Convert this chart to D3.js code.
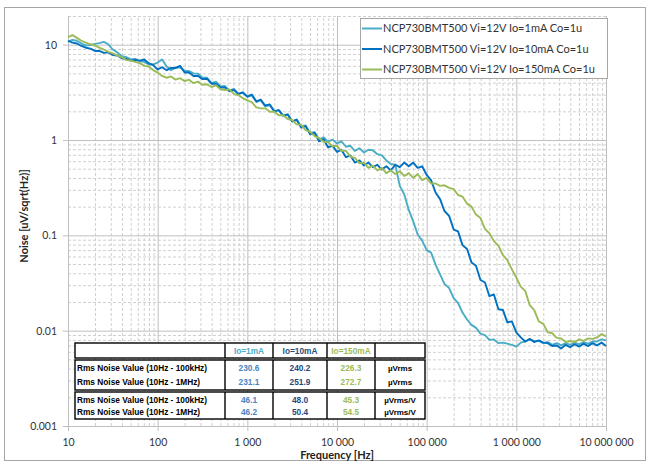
<!DOCTYPE html>
<html>
<head>
<meta charset="utf-8">
<script src="https://cdn.jsdelivr.net/npm/d3@7"></script>
<style>
  body { margin: 0; background: #fff; }
  svg { display: block; }
</style>
</head>
<body>
<svg width="649" height="464"></svg>
<script>
// frequency grid (Hz), 20 points per decade
var freqs = [10, 11.2, 12.6, 14.1, 15.8, 17.8, 20, 22.4, 25.1, 28.2, 31.6, 35.5, 39.8, 44.7, 50.1, 56.2, 63.1, 70.8, 79.4, 89.1,
  100, 112, 126, 141, 158, 178, 200, 224, 251, 282, 316, 355, 398, 447, 501, 562, 631, 708, 794, 891,
  1000, 1120, 1260, 1410, 1580, 1780, 2000, 2240, 2510, 2820, 3160, 3550, 3980, 4470, 5010, 5620, 6310, 7080, 7940, 8910,
  10000, 11200, 12600, 14100, 15800, 17800, 20000, 22400, 25100, 28200, 31600, 35500, 39800, 44700, 50100, 56200, 63100, 70800, 79400, 89100,
  100000, 112000, 126000, 141000, 158000, 178000, 200000, 224000, 251000, 282000, 316000, 355000, 398000, 447000, 501000, 562000, 631000, 708000, 794000, 891000,
  1000000, 1120000, 1260000, 1410000, 1580000, 1780000, 2000000, 2240000, 2510000, 2820000, 3160000, 3550000, 3980000, 4470000, 5010000, 5620000, 6310000, 7080000, 7940000, 8910000,
  10000000];

// noise density, uV/sqrt(Hz)
var noise1mA = [10.75, 11.2, 11.0, 10.3, 9.8, 9.9, 10.2, 10.4, 10.7, 10.1,
  8.9, 8.3, 7.6, 7.4, 7.0, 7.1, 6.7, 6.6, 6.2, 6.2,
  6.5, 7.0, 5.9, 5.4, 5.7, 5.8, 5.3, 5.3, 5.0, 4.95,
  4.5, 4.5, 3.95, 4.1, 3.65, 3.7, 3.3, 3.45, 3.05, 3.15,
  2.85, 2.95, 2.5, 2.62, 2.25, 2.32, 2.0, 2.06, 1.8, 1.84,
  1.58, 1.62, 1.39, 1.42, 1.19, 1.21, 1.01, 1.07, 0.96, 1.01,
  0.92, 0.97, 0.85, 0.87, 0.77, 0.82, 0.74, 0.79, 0.78, 0.71,
  0.69, 0.61, 0.56, 0.55, 0.33, 0.27, 0.185, 0.14, 0.102, 0.088,
  0.07, 0.066, 0.049, 0.039, 0.031, 0.028, 0.022, 0.0195, 0.0155, 0.0131,
  0.0115, 0.0107, 0.0093, 0.009, 0.008, 0.0081, 0.0074, 0.0075, 0.0073, 0.0071,
  0.0068, 0.0075, 0.0077, 0.0081, 0.0078, 0.0078, 0.0074, 0.0076, 0.0071, 0.0074,
  0.007, 0.0074, 0.0071, 0.0075, 0.0072, 0.0076, 0.0073, 0.0077, 0.0077, 0.0081, 0.0079];

var noise10mA = [11.0, 10.5, 10.3, 9.7, 9.3, 9.1, 8.6, 8.6, 8.2, 8.3,
  7.8, 7.7, 7.2, 7.1, 6.8, 6.9, 6.8, 7.0, 6.4, 6.1,
  5.5, 5.8, 5.4, 5.7, 5.7, 6.0, 5.1, 5.1, 4.7, 4.7,
  4.35, 4.4, 3.9, 3.9, 3.55, 3.55, 3.25, 3.35, 3.05, 3.15,
  2.85, 3.0, 2.55, 2.65, 2.3, 2.36, 2.0, 2.06, 1.8, 1.86,
  1.56, 1.64, 1.35, 1.4, 1.15, 1.19, 0.97, 1.02, 0.84, 0.87,
  0.75, 0.79, 0.66, 0.69, 0.58, 0.61, 0.54, 0.58, 0.52, 0.55,
  0.49, 0.53, 0.48, 0.55, 0.52, 0.58, 0.53, 0.58, 0.51, 0.53,
  0.43, 0.38, 0.28, 0.24, 0.18, 0.16, 0.115, 0.11, 0.079, 0.072,
  0.052, 0.048, 0.034, 0.032, 0.023, 0.024, 0.0168, 0.0165, 0.0122, 0.0125,
  0.0096, 0.0085, 0.0077, 0.0082, 0.0076, 0.0079, 0.0075, 0.0074, 0.0069, 0.007,
  0.0065, 0.0071, 0.0067, 0.0072, 0.0068, 0.0073, 0.0069, 0.0074, 0.007, 0.0075, 0.0069];

var noise150mA = [12.0, 12.6, 11.8, 11.0, 10.5, 10.1, 9.8, 9.3, 8.9, 8.4,
  8.1, 7.7, 7.4, 6.9, 6.8, 6.6, 6.4, 6.0, 5.9, 5.4,
  5.1, 4.7, 4.5, 4.65, 4.3, 4.45, 4.15, 4.3, 3.95, 4.1,
  3.8, 3.85, 3.6, 3.75, 3.4, 3.35, 3.4, 3.05, 2.95, 2.75,
  2.6, 2.5, 2.2, 2.15, 2.15, 1.98, 1.98, 1.82, 1.82, 1.66,
  1.62, 1.46, 1.44, 1.27, 1.22, 1.1, 1.05, 0.96, 0.95, 0.86,
  0.87, 0.77, 0.77, 0.67, 0.65, 0.57, 0.58, 0.51, 0.54, 0.48,
  0.51, 0.45, 0.48, 0.44, 0.47, 0.42, 0.45, 0.4, 0.44, 0.38,
  0.4, 0.35, 0.35, 0.33, 0.335, 0.315, 0.305, 0.265, 0.255, 0.215,
  0.2, 0.165, 0.152, 0.117, 0.105, 0.087, 0.078, 0.062, 0.055, 0.044,
  0.036, 0.029, 0.026, 0.0185, 0.0165, 0.0125, 0.0118, 0.0096, 0.0094, 0.0084,
  0.0083, 0.0076, 0.0078, 0.0076, 0.0081, 0.0078, 0.0083, 0.0082, 0.0085, 0.0092, 0.0087];

var seriesNames = ['NCP730BMT500 Vi=12V Io=1mA Co=1u', 'NCP730BMT500 Vi=12V Io=10mA Co=1u', 'NCP730BMT500 Vi=12V Io=150mA Co=1u'];
var seriesColors = ['#4bacc6', '#0070c0', '#9bbb59'];

var xTicks = [10, 100, 1000, 10000, 100000, 1000000, 10000000];
var yTicks = [0.001, 0.01, 0.1, 1, 10];

// rms table
var tableCols = ['Io=1mA', 'Io=10mA', 'Io=150mA'];
var tableHeadColors = ['#4bacc6', '#1f4e79', '#9bbb59'];
var tableValColors = ['#4f81bd', '#1f497d', '#9bbb59'];
var rowLabels = ['Rms Noise Value (10Hz - 100kHz)', 'Rms Noise Value (10Hz - 1MHz)', 'Rms Noise Value (10Hz - 100kHz)', 'Rms Noise Value (10Hz - 1MHz)'];
var rmsValues = [[230.6, 240.2, 226.3], [231.1, 251.9, 272.7], [46.1, 48.0, 45.3], [46.2, 50.4, 54.5]];
var rowUnits = ['\u00b5Vrms', '\u00b5Vrms', '\u00b5Vrms/V', '\u00b5Vrms/V'];

var svg = d3.select('svg');
var plotL = 68, plotR = 606, plotT = 16, plotB = 426;

var x = d3.scaleLog().domain([10, 1e7]).range([plotL, plotR]);
var y = d3.scaleLog().domain([0.001, 20]).range([plotB, plotT]);

svg.append('rect').attr('x', 4.5).attr('y', 7.5).attr('width', 641).attr('height', 453)
  .attr('fill', '#fff').attr('stroke', '#a6a6a6');

// minor grid values
var xMinor = [], yMinor = [];
xTicks.slice(0, -1).forEach(function (d) { for (var m = 2; m <= 9; m++) xMinor.push(d * m); });
yTicks.forEach(function (d) { for (var m = 2; m <= 9; m++) if (d * m <= 20) yMinor.push(d * m); });

var grid = svg.append('g').attr('class', 'grid');
grid.append('g').attr('transform', 'translate(0,' + plotB + ')')
  .call(d3.axisBottom(x).tickValues(xMinor).tickSize(-(plotB - plotT)).tickFormat(''))
  .call(function (g) { g.select('.domain').remove(); g.selectAll('line').attr('stroke', '#d0d0d0').attr('stroke-dasharray', '3,2'); });
grid.append('g').attr('transform', 'translate(' + plotL + ',0)')
  .call(d3.axisLeft(y).tickValues(yMinor).tickSize(-(plotR - plotL)).tickFormat(''))
  .call(function (g) { g.select('.domain').remove(); g.selectAll('line').attr('stroke', '#d0d0d0').attr('stroke-dasharray', '3,2'); });

var fmtX = function (d) { return d3.format(',')(d).replace(/,/g, ' '); };
var fmtY = function (d) { return String(d); };

// major grid + labels
var xAxis = svg.append('g').attr('transform', 'translate(0,' + plotB + ')')
  .call(d3.axisBottom(x).tickValues(xTicks).tickSize(-(plotB - plotT)).tickFormat(fmtX).tickPadding(13));
xAxis.select('.domain').remove();
xAxis.selectAll('line').attr('stroke', '#bfbfbf').attr('y2', -(plotB - plotT)).attr('y1', 5);
xAxis.selectAll('text').attr('fill', '#333').style('font', '10.5px Lato');

var yAxis = svg.append('g').attr('transform', 'translate(' + plotL + ',0)')
  .call(d3.axisLeft(y).tickValues(yTicks).tickSize(-(plotR - plotL)).tickFormat(fmtY).tickPadding(11));
yAxis.select('.domain').remove();
yAxis.selectAll('line').attr('stroke', '#bfbfbf').attr('x1', -5);
yAxis.selectAll('text').attr('fill', '#333').style('font', '10.5px Lato');

svg.append('line').attr('x1', plotL).attr('x2', plotR).attr('y1', plotB + 0.5).attr('y2', plotB + 0.5).attr('stroke', '#bfbfbf');
svg.append('line').attr('x1', plotL + 0.5).attr('x2', plotL + 0.5).attr('y1', plotT).attr('y2', plotB).attr('stroke', '#bfbfbf');

// curves
var line = d3.line().x(function (d) { return x(d[0]); }).y(function (d) { return y(d[1]); });
[noise1mA, noise10mA, noise150mA].forEach(function (vals, i) {
  svg.append('path').datum(d3.zip(freqs, vals))
    .attr('fill', 'none').attr('stroke', seriesColors[i]).attr('stroke-width', 1.9)
    .attr('stroke-linejoin', 'round').attr('d', line);
});

// axis titles
svg.append('text').attr('x', 337).attr('y', 459).attr('text-anchor', 'middle')
  .style('font', 'bold 11px Lato').attr('fill', '#222').text('Frequency [Hz]');
svg.append('text').attr('transform', 'translate(28,216) rotate(-90)').attr('text-anchor', 'middle')
  .style('font', 'bold 11px Lato').attr('fill', '#222').text('Noise [uV/sqrt(Hz)]');

// legend
var lg = svg.append('g');
lg.append('rect').attr('x', 360.5).attr('y', 18.5).attr('width', 247).attr('height', 60)
  .attr('fill', '#fff').attr('stroke', '#a6a6a6');
seriesNames.forEach(function (name, i) {
  var yy = 28.5 + i * 20.5;
  lg.append('line').attr('x1', 362).attr('x2', 382).attr('y1', yy).attr('y2', yy)
    .attr('stroke', seriesColors[i]).attr('stroke-width', 2);
  lg.append('text').attr('x', 383).attr('y', yy).attr('dy', '0.35em')
    .style('font', '11px Lato').attr('fill', '#333').text(name);
});

// rms table
var colX = [75, 225, 273, 327, 375, 425];
var blocks = [[343, 358], [360, 390], [392, 419]];
var rowY = [368, 382, 400, 412.5];
var tb = svg.append('g');
blocks.forEach(function (b) {
  tb.append('rect').attr('x', colX[0]).attr('y', b[0]).attr('width', colX[5] - colX[0]).attr('height', b[1] - b[0])
    .attr('fill', '#fff').attr('stroke', '#000').attr('stroke-width', 1.4);
  colX.slice(1, -1).forEach(function (cx) {
    tb.append('line').attr('x1', cx).attr('x2', cx).attr('y1', b[0]).attr('y2', b[1])
      .attr('stroke', '#000').attr('stroke-width', 1.4);
  });
});
tableCols.forEach(function (c, j) {
  tb.append('text').attr('x', (colX[j + 1] + colX[j + 2]) / 2).attr('y', 351).attr('dy', '0.35em')
    .attr('text-anchor', 'middle').style('font', 'bold 8.3px "Liberation Sans"').attr('fill', tableHeadColors[j]).text(c);
});
rowLabels.forEach(function (lab, r) {
  tb.append('text').attr('x', 77).attr('y', rowY[r]).attr('dy', '0.35em')
    .style('font', 'bold 8.3px "Liberation Sans"').attr('fill', '#000').text(lab);
  rmsValues[r].forEach(function (v, j) {
    tb.append('text').attr('x', (colX[j + 1] + colX[j + 2]) / 2).attr('y', rowY[r]).attr('dy', '0.35em')
      .attr('text-anchor', 'middle').style('font', 'bold 8.3px "Liberation Sans"').attr('fill', tableValColors[j])
      .text(v.toFixed(1));
  });
  tb.append('text').attr('x', (colX[4] + colX[5]) / 2).attr('y', rowY[r]).attr('dy', '0.35em')
    .attr('text-anchor', 'middle').style('font', 'bold 8px "Liberation Sans"').attr('fill', '#000').text(rowUnits[r]);
});
</script>
</body>
</html>
